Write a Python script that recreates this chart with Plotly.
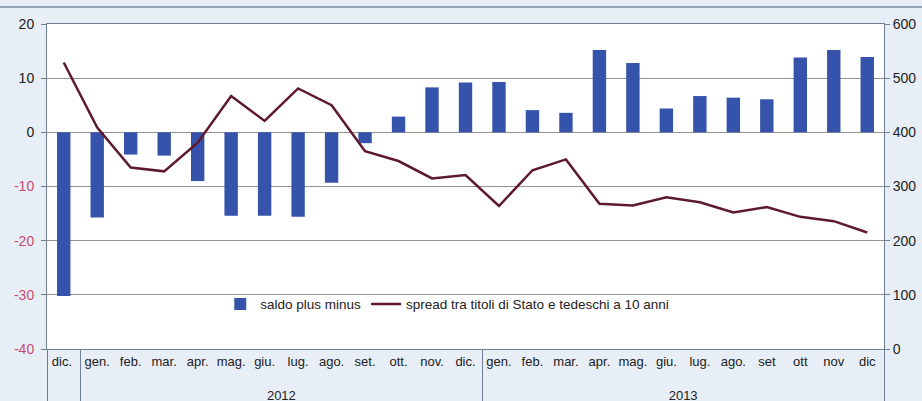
import plotly.graph_objects as go

# ---- data ----
years = [" "] + ["2012"] * 12 + ["2013"] * 12
# first "dic." (Dec 2011) carries a trailing space so it is a distinct category
months = ["dic. ", "gen.", "feb.", "mar.", "apr.", "mag.", "giu.", "lug.", "ago.", "set.", "ott.", "nov.", "dic.",
          "gen.", "feb.", "mar.", "apr.", "mag.", "giu.", "lug.", "ago.", "set", "ott", "nov", "dic"]
saldo = [-30.2, -15.7, -4.1, -4.3, -9.0, -15.4, -15.4, -15.6, -9.3, -2.0, 2.9, 8.3, 9.2,
         9.3, 4.1, 3.6, 15.2, 12.8, 4.4, 6.7, 6.4, 6.1, 13.8, 15.2, 13.9]
spread = [529, 409, 335, 328, 381, 467, 421, 481, 450, 365, 347, 315, 321,
          264, 330, 350, 268, 265, 280, 271, 252, 262, 244, 236, 215]
left_ticks = [-40, -30, -20, -10, 0, 10, 20]
right_ticks = [0, 100, 200, 300, 400, 500, 600]

NEG_COLOR = "#c84a72"
AXIS_COLOR = "#6f7f95"
BG = "#e7eef6"

left_text = [f"<span style='color:{NEG_COLOR}'>{v}</span>" if v < 0 else str(v) for v in left_ticks]
group_labels = [f"<br>{y}" for y in years]  # leading break drops the year row lower

fig = go.Figure()
fig.add_bar(x=[group_labels, months], y=saldo, name="saldo plus minus",
            marker=dict(color="#3553ab", line=dict(width=0)), yaxis="y")
fig.add_scatter(x=[group_labels, months], y=spread, name="spread tra titoli di Stato e tedeschi a 10 anni",
                mode="lines", line=dict(color="#5e1a2c", width=2.5), yaxis="y2")

fig.update_layout(
    width=922, height=401,
    margin=dict(l=47, r=38, t=24, b=52, autoexpand=False),
    paper_bgcolor=BG, plot_bgcolor="white",
    font=dict(family="Liberation Sans, Arial, sans-serif", size=12, color="#222222"),
    bargap=0.6,
    showlegend=True,
    legend=dict(orientation="h", x=0.207, xanchor="left", y=0.138, yanchor="middle",
                bgcolor="rgba(0,0,0,0)", font=dict(size=13.5)),
    xaxis=dict(type="multicategory", showline=True, linecolor=AXIS_COLOR, mirror=True,
               tickangle=0, ticks="", showdividers=True, dividercolor=AXIS_COLOR, dividerwidth=1,
               showgrid=False, tickfont=dict(size=13), automargin=False),
    yaxis=dict(range=[-40, 20], tickvals=left_ticks, ticktext=left_text, showgrid=True,
               gridcolor="#929292", gridwidth=1, showline=True, linecolor=AXIS_COLOR,
               ticks="outside", ticklen=5, tickcolor=AXIS_COLOR, zeroline=False,
               tickfont=dict(size=14), ticklabelstandoff=4, automargin=False),
    yaxis2=dict(overlaying="y", side="right", range=[0, 600], tickvals=right_ticks,
                showgrid=False, showline=True, linecolor=AXIS_COLOR, ticks="outside",
                ticklen=5, tickcolor=AXIS_COLOR, zeroline=False, tickfont=dict(size=14),
                automargin=False),
    shapes=[dict(type="line", xref="paper", yref="paper", x0=-0.06, x1=1.05, y0=1.052, y1=1.052,
                 line=dict(color="#7d8aa0", width=1.5))],
)

fig.write_html(
    "out.html",
    config={"displayModeBar": False},
    post_script=f"document.body.style.margin='0';document.body.style.background='{BG}';",
)
